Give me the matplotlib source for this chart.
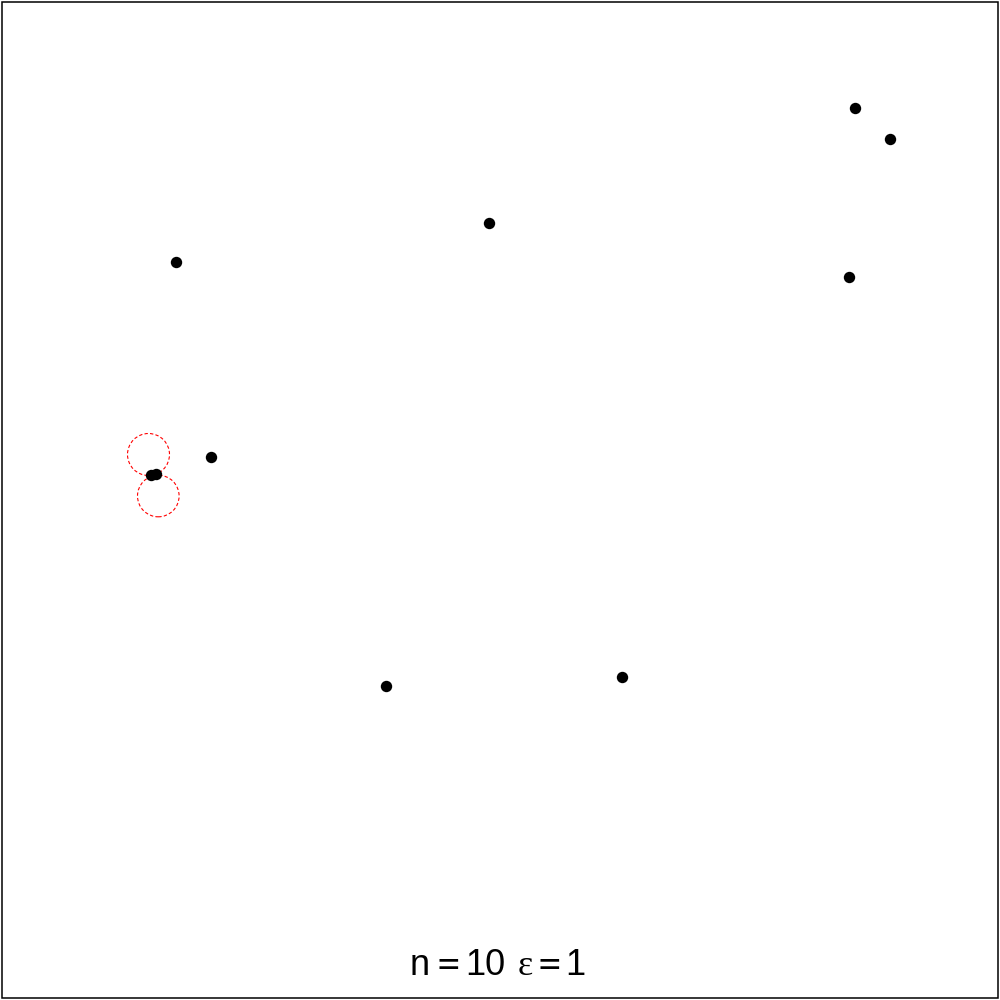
import matplotlib
matplotlib.use("Agg")
import matplotlib.pyplot as plt
from matplotlib.patches import Circle, Rectangle

# point data (unit square, y up)
x = [0.855, 0.890, 0.489, 0.176, 0.849, 0.211, 0.151, 0.156, 0.386, 0.622]
y = [0.892, 0.861, 0.777, 0.738, 0.723, 0.543, 0.525, 0.526, 0.314, 0.323]

# witness circles
cx = [0.1485, 0.1583]
cy = [0.5455, 0.5040]
cr = [0.0210, 0.0208]

n = 10
eps = 1

fig = plt.figure(figsize=(10, 10), dpi=100)
ax = fig.add_axes([0, 0, 1, 1])
ax.set_xlim(0, 1)
ax.set_ylim(0, 1)
ax.set_aspect("equal")
ax.axis("off")

ax.add_patch(Rectangle((0.0015, 0.0025), 0.996, 0.996, fill=False,
                       edgecolor="black", linewidth=1.1))

for a, b, r in zip(cx, cy, cr):
    ax.add_patch(Circle((a, b), r, fill=False, edgecolor="red",
                        linestyle=(0, (3, 2)), linewidth=0.8))

ax.plot(x, y, "o", color="black", markersize=8.2, markeredgewidth=0)

# label pieces: (text, centre x, family, size)
pieces = [("n", 0.420, "Liberation Sans", 26),
          ("=", 0.448, "DejaVu Sans Mono", 26),
          (str(n), 0.485, "Liberation Sans", 26),
          ("\u03b5", 0.525, "Liberation Serif", 26),
          ("=", 0.549, "DejaVu Sans Mono", 26),
          (str(eps), 0.5755, "Liberation Sans", 26)]
for s, px, fam, fs in pieces:
    ax.text(px, 0.025, s, ha="center", va="baseline",
            fontsize=fs, family=fam)

fig.savefig("out.png", dpi=100)
